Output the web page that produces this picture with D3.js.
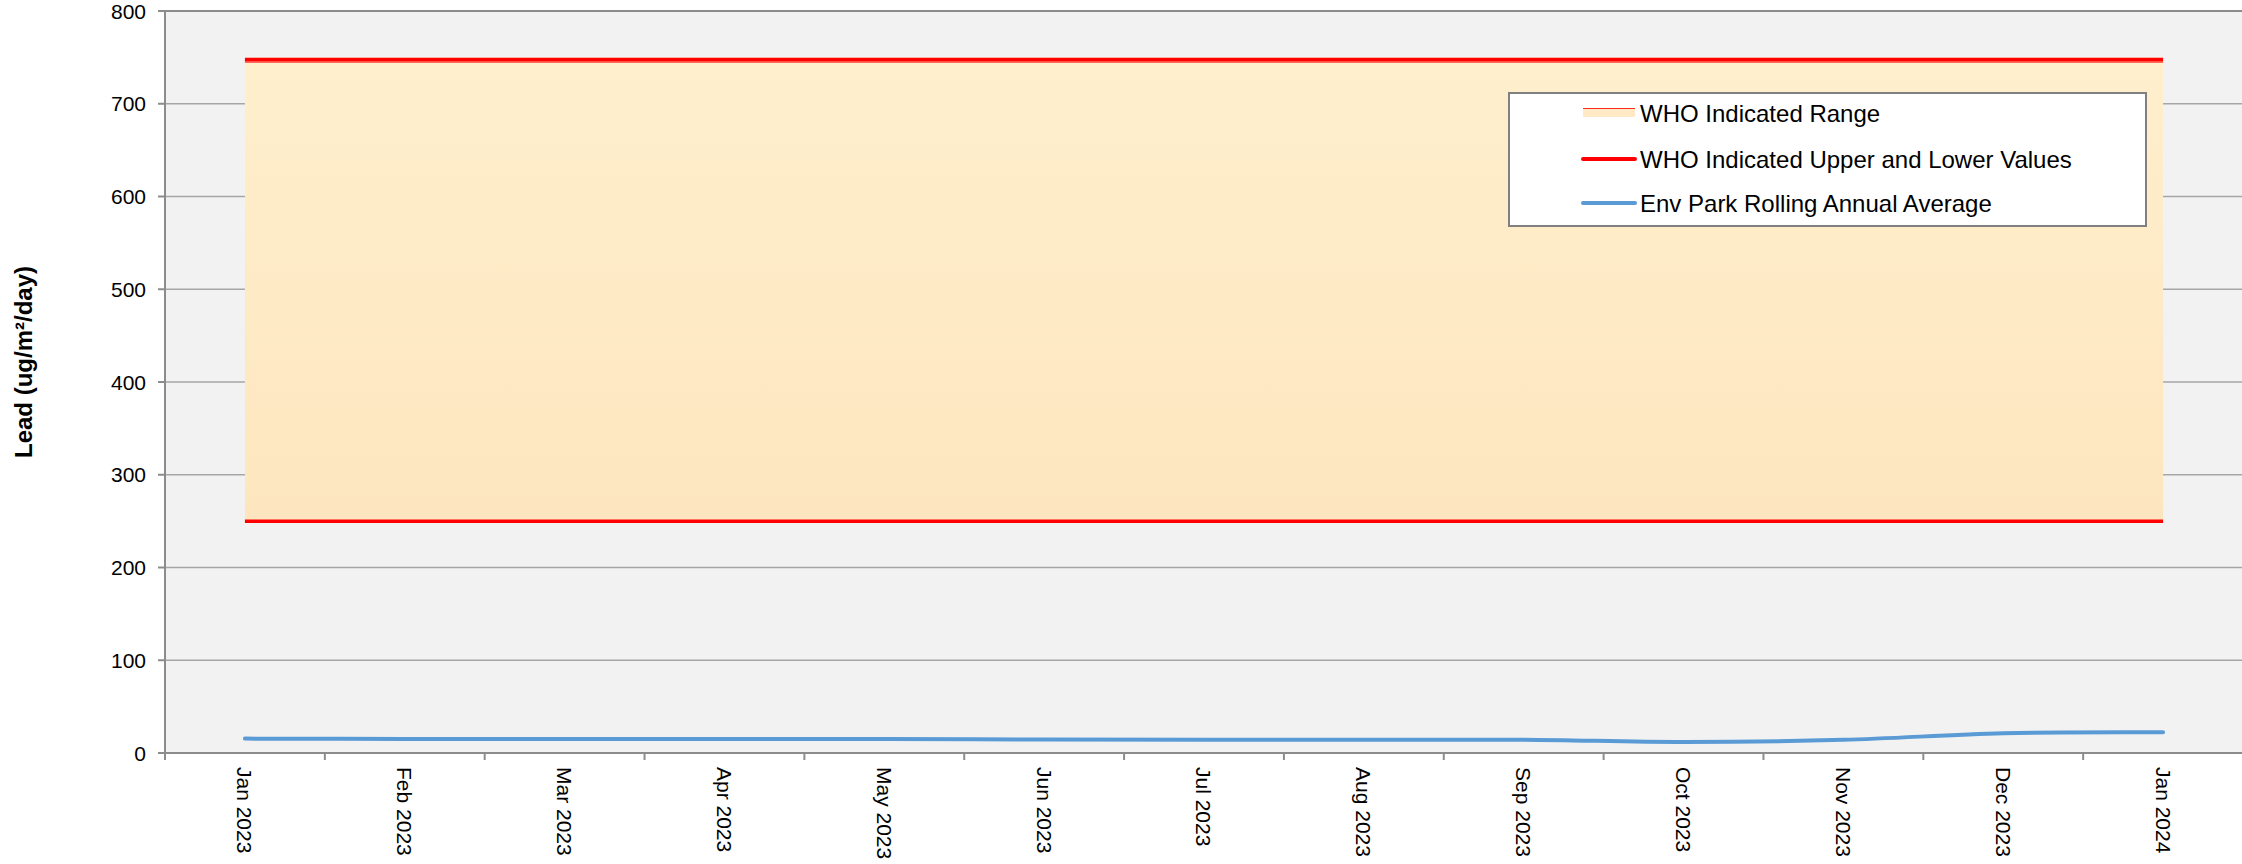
<!DOCTYPE html>
<html>
<head>
<meta charset="utf-8">
<script src="https://cdn.jsdelivr.net/npm/d3@7"></script>
<style>
  html, body { margin: 0; padding: 0; background: #fff; }
  svg { display: block; font-family: "Liberation Sans", Arial, sans-serif; }
</style>
</head>
<body>
<svg id="chart"></svg>
<script>
const months = ["Jan 2023", "Feb 2023", "Mar 2023", "Apr 2023", "May 2023", "Jun 2023",
  "Jul 2023", "Aug 2023", "Sep 2023", "Oct 2023", "Nov 2023", "Dec 2023", "Jan 2024"]
const rollingAvg = [15.5, 15.2, 15.0, 15.0, 15.0, 14.6, 14.4, 14.3, 14.3, 11.8, 14.2, 21.3, 22.3]
const whoLower = [250, 250, 250, 250, 250, 250, 250, 250, 250, 250, 250, 250, 250]
const whoUpper = [750, 750, 750, 750, 750, 750, 750, 750, 750, 750, 750, 750, 750]
const yTicks = [0, 100, 200, 300, 400, 500, 600, 700, 800]
const legendItems = ["WHO Indicated Range", "WHO Indicated Upper and Lower Values", "Env Park Rolling Annual Average"]

const width = 2242, height = 864
const plot = {left: 165, right: 2243, top: 11, bottom: 753}

const svg = d3.select("#chart")
  .attr("width", width)
  .attr("height", height)

const x = d3.scaleBand().domain(months).range([plot.left, plot.right])
const y = d3.scaleLinear().domain([0, 800]).range([plot.bottom, plot.top])
const cx = m => x(m) + x.bandwidth() / 2

// plot background
svg.append("rect")
  .attr("x", plot.left).attr("y", plot.top)
  .attr("width", plot.right - plot.left).attr("height", plot.bottom - plot.top)
  .attr("fill", "#f2f2f2")

// gridlines
svg.append("g")
  .selectAll("line")
  .data(yTicks.filter(d => d > 0 && d < 800))
  .enter().append("line")
  .attr("x1", plot.left).attr("x2", plot.right)
  .attr("y1", d => y(d)).attr("y2", d => y(d))
  .attr("stroke", "#a6a6a6")
  .attr("stroke-width", 1.5)

// WHO range band
const defs = svg.append("defs")
const grad = defs.append("linearGradient")
  .attr("id", "band-grad")
  .attr("x1", 0).attr("y1", 0).attr("x2", 0).attr("y2", 1)
grad.append("stop").attr("offset", "0%").attr("stop-color", "#ffefcd")
grad.append("stop").attr("offset", "100%").attr("stop-color", "#fde6bf")

const rangeData = months.map((m, i) => ({m, lo: whoLower[i], hi: whoUpper[i]}))

svg.append("path")
  .datum(rangeData)
  .attr("fill", "url(#band-grad)")
  .attr("d", d3.area().x(d => cx(d.m)).y0(d => y(d.lo)).y1(d => y(d.hi)))

// thin outline along the top of the range
svg.append("path")
  .datum(rangeData)
  .attr("fill", "none")
  .attr("stroke", "#ff6a5c")
  .attr("stroke-width", 3)
  .attr("transform", "translate(0,4)")
  .attr("d", d3.line().x(d => cx(d.m)).y(d => y(d.hi)))

// WHO upper and lower lines
const redLine = d3.line().x(d => cx(d.m)).y(d => d.v)
;[whoUpper, whoLower].forEach((arr, k) => {
  svg.append("path")
    .datum(months.map((m, i) => ({m, v: y(arr[i])})))
    .attr("fill", "none")
    .attr("stroke", "#ff0000")
    .attr("stroke-width", 3.5)
    .attr("transform", k === 0 ? "translate(0,2)" : null)
    .attr("d", redLine)
})

// rolling average
svg.append("path")
  .datum(months.map((m, i) => ({m, v: rollingAvg[i]})))
  .attr("fill", "none")
  .attr("stroke", "#5b9bd5")
  .attr("stroke-width", 4)
  .attr("stroke-linecap", "round")
  .attr("d", d3.line().curve(d3.curveCatmullRom.alpha(0.5)).x(d => cx(d.m)).y(d => y(d.v)))

// axes frame
const axisColor = "#8c8c8c"
svg.append("line")
  .attr("x1", plot.left).attr("x2", plot.right)
  .attr("y1", plot.top).attr("y2", plot.top)
  .attr("stroke", axisColor).attr("stroke-width", 2)
svg.append("line")
  .attr("x1", plot.left).attr("x2", plot.left)
  .attr("y1", plot.top - 1).attr("y2", plot.bottom)
  .attr("stroke", axisColor).attr("stroke-width", 2)
svg.append("line")
  .attr("x1", plot.left - 7).attr("x2", plot.right)
  .attr("y1", plot.bottom).attr("y2", plot.bottom)
  .attr("stroke", axisColor).attr("stroke-width", 2)

// y ticks + labels
const yAxis = svg.append("g")
yAxis.selectAll("line")
  .data(yTicks)
  .enter().append("line")
  .attr("x1", plot.left - 7).attr("x2", plot.left)
  .attr("y1", d => y(d)).attr("y2", d => y(d))
  .attr("stroke", axisColor).attr("stroke-width", 2)
yAxis.selectAll("text")
  .data(yTicks)
  .enter().append("text")
  .attr("x", 146)
  .attr("y", d => y(d))
  .attr("dy", "0.36em")
  .attr("text-anchor", "end")
  .attr("font-size", 21)
  .attr("fill", "#000")
  .text(d => d)

// x ticks (between categories) + labels
const xAxis = svg.append("g")
xAxis.selectAll("line")
  .data(months)
  .enter().append("line")
  .attr("x1", d => x(d)).attr("x2", d => x(d))
  .attr("y1", plot.bottom).attr("y2", plot.bottom + 7)
  .attr("stroke", axisColor).attr("stroke-width", 2)
xAxis.selectAll("text")
  .data(months)
  .enter().append("text")
  .attr("transform", d => `translate(${cx(d)},${plot.bottom + 14}) rotate(90)`)
  .attr("dy", "0.36em")
  .attr("font-size", 21)
  .attr("fill", "#000")
  .text(d => d)

// y axis title
svg.append("text")
  .attr("transform", "translate(23,362) rotate(-90)")
  .attr("dy", "0.36em")
  .attr("text-anchor", "middle")
  .attr("font-size", 24)
  .attr("font-weight", "bold")
  .attr("fill", "#000")
  .text("Lead (ug/m²/day)")

// legend
const legend = svg.append("g").attr("transform", "translate(1509,93)")
legend.append("rect")
  .attr("width", 637).attr("height", 133)
  .attr("fill", "#fff")
  .attr("stroke", "#808080")
  .attr("stroke-width", 2)

const rowY = [20, 66, 110]
const row = legend.selectAll("g.row")
  .data(legendItems)
  .enter().append("g")
  .attr("class", "row")
  .attr("transform", (d, i) => `translate(0,${rowY[i]})`)

row.each(function (d, i) {
  const g = d3.select(this)
  if (i === 0) {
    g.append("rect").attr("x", 74).attr("y", -4).attr("width", 52).attr("height", 8).attr("fill", "#ffe9c6")
    g.append("line").attr("x1", 74).attr("x2", 126).attr("y1", -4.5).attr("y2", -4.5)
      .attr("stroke", "#ff2a1a").attr("stroke-width", 1.2)
  } else {
    g.append("line").attr("x1", 74).attr("x2", 126).attr("y1", 0).attr("y2", 0)
      .attr("stroke", i === 1 ? "#ff0000" : "#5b9bd5")
      .attr("stroke-width", 4)
      .attr("stroke-linecap", "round")
  }
  g.append("text")
    .attr("x", 131)
    .attr("dy", "0.36em")
    .attr("font-size", 24)
    .attr("fill", "#000")
    .text(d)
})
</script>
</body>
</html>
